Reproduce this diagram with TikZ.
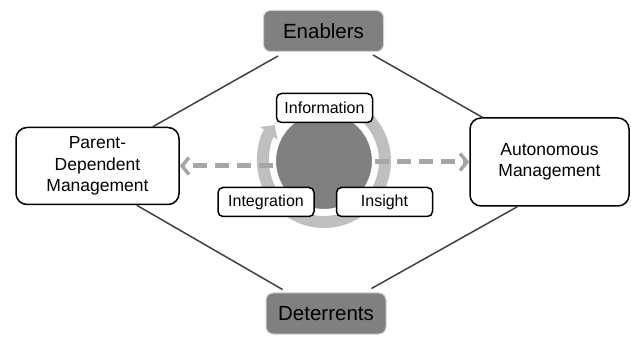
\documentclass[tikz,border=0pt]{standalone}
\usepackage{fontspec}
\setmainfont{Liberation Sans}
\usetikzlibrary{calc,arrows.meta}
\definecolor{boxgray}{HTML}{808080}
\definecolor{ringgray}{HTML}{BFBFBF}
\definecolor{flowgray}{HTML}{A6A6A6}
\definecolor{linegray}{HTML}{404040}

\begin{document}
\begin{tikzpicture}[x=1pt,y=1pt,
    factor/.style={draw=gray!35,line width=1pt,fill=boxgray,rounded corners=7pt,inner sep=0pt,
        minimum width=120pt,minimum height=41pt,font=\fontsize{20.5}{24}\selectfont},
    mode/.style={draw=black,line width=1.5pt,fill=white,rounded corners=11pt,align=center,inner sep=0pt,
        font=\fontsize{17.5}{21.5}\selectfont},
    stage/.style={draw=black,line width=1.5pt,fill=white,rounded corners=5pt,inner sep=0pt,
        minimum width=96pt,minimum height=29pt,font=\fontsize{16}{18}\selectfont},
    link/.style={linegray,line width=1.5pt},
    flow/.style={flowgray,line width=5pt,dash pattern=on 14pt off 8pt,
        -{Straight Barb[length=7pt,width=17pt,line width=3.5pt]}},
    cycle/.style={ringgray,line width=12pt,-{Triangle[length=10pt,width=21pt]}}]
    \useasboundingbox (0,0) rectangle (631,337);

    % outer boxes
    \node[factor] (enab) at (323.5,306) {Enablers};
    \node[factor] (deter) at (326,23.5) {Deterrents};
    \node[mode,minimum width=163pt,minimum height=77pt] (parent) at (97.5,171) {Parent-\\Dependent\\Management};
    \node[mode,minimum width=159pt,minimum height=88pt] (auto) at (549.5,175) {Autonomous\\Management};

    % diamond
    \draw[link] ([xshift=15pt,yshift=-4pt]enab.south west) -- ([xshift=-27pt]parent.north east);
    \draw[link] ([xshift=-11pt,yshift=-3pt]enab.south east) -- ([xshift=13pt]auto.north west);
    \draw[link] ([xshift=-43pt]parent.south east) -- ([xshift=17pt,yshift=3pt]deter.north west);
    \draw[link] ([xshift=48pt]auto.south west) -- ([xshift=-15pt,yshift=4pt]deter.north east);

    % centre
    \node[circle,fill=boxgray,draw=white,line width=3pt,minimum size=99pt,inner sep=0pt] (core) at (324,176) {};
    \draw[cycle] ($(core.center)+(70:61)$) arc (70:-216:61);
    \draw[flow] (parent.east -| core.west) -- (parent.east);
    \draw[flow] (auto.west -| core.east) -- (auto.west);

    \node[stage] (info) at (324.5,229) {Information};
    \node[stage] (integ) at (266,135) {Integration};
    \node[stage] (insight) at (384.5,135) {Insight};
\end{tikzpicture}
\end{document}
